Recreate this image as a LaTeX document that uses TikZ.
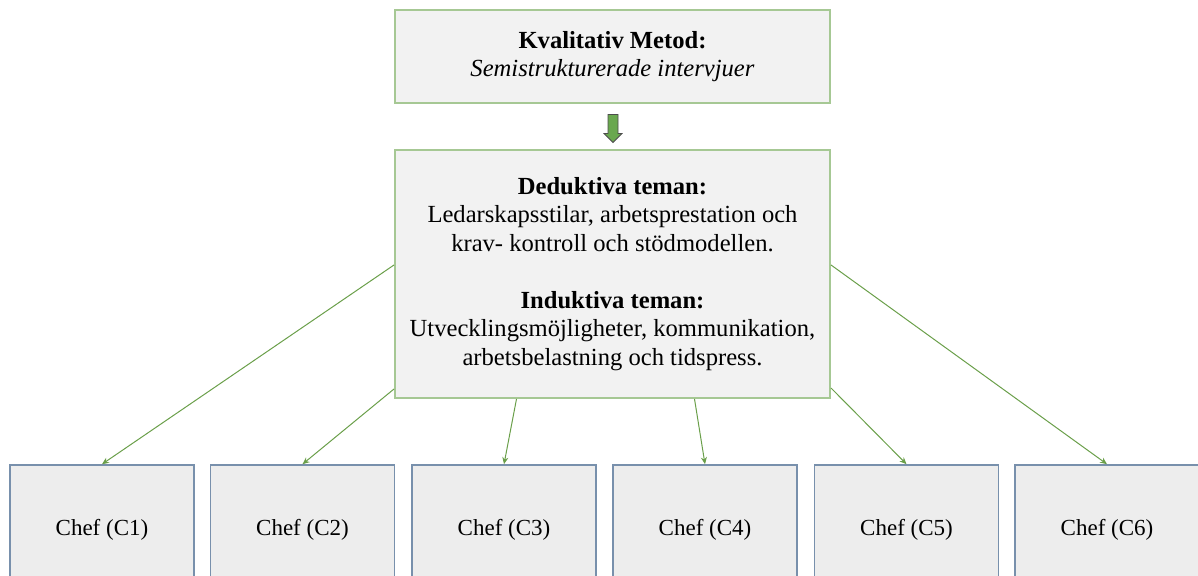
\documentclass[tikz,border=0pt]{standalone}
\usepackage{fontspec}
\setmainfont{Liberation Serif}
\usetikzlibrary{shapes.arrows,arrows.meta,calc}
\definecolor{boxgreen}{HTML}{A6C894}
\definecolor{linegreen}{HTML}{6A9F4A}
\definecolor{arrowgreen}{HTML}{6AA84F}
\definecolor{chefblue}{HTML}{7890AC}
\tikzset{
  themebox/.style={draw=boxgreen,fill=black!5,line width=1pt,minimum width=217.5pt,inner sep=0pt,align=center,font=\fontsize{12.3}{14.3}\selectfont},
  chefbox/.style={draw=chefblue,fill=black!7,line width=0.8pt,minimum width=92pt,minimum height=65pt,inner sep=0pt},
  link/.style={draw=linegreen,line width=0.5pt,-{Stealth[length=3.5pt,width=3pt]}}
}
\begin{document}
\begin{tikzpicture}[x=0.5pt,y=0.5pt,font=\fontsize{11.5}{14}\selectfont]
\useasboundingbox (0,0) rectangle (1198,576);
\clip (0,0) rectangle (1198,576);
% top box and the block arrow
\node[themebox,minimum height=46.5pt] (metod) at (612.5,519.5) {\textbf{Kvalitativ Metod:}\\ \textit{Semistrukturerade intervjuer}};
\node[single arrow,draw=black!70,fill=arrowgreen,line width=0.4pt,rotate=-90,minimum height=14pt,single arrow head extend=2pt,inner sep=2.3pt] (pil) at (613,450) {};
% themes
\node[themebox,minimum height=124pt] (teman) at (612.5,302) {\textbf{Deduktiva teman:}\\ Ledarskapsstilar, arbetsprestation och\\ krav- kontroll och stödmodellen.\\[14pt] \textbf{Induktiva teman:}\\ Utvecklingsmöjligheter, kommunikation,\\ arbetsbelastning och tidspress.};
% managers
\foreach \i/\x in {1/102,2/302.5,3/504,4/705,5/906.5,6/1107}{
  \node[chefbox] (c\i) at (\x,46) {Chef (C\i)};}
\draw[link] ([yshift=4.5pt]teman.west) -- (c1.north);
\draw[link] ([yshift=5pt]teman.south west) -- (c2.north);
\draw[link] ([xshift=-48pt]teman.south) -- (c3.north);
\draw[link] ([xshift=41pt]teman.south) -- (c4.north);
\draw[link] ([yshift=5.5pt]teman.south east) -- (c5.north);
\draw[link] ([yshift=4.5pt]teman.east) -- (c6.north);
\end{tikzpicture}
\end{document}
